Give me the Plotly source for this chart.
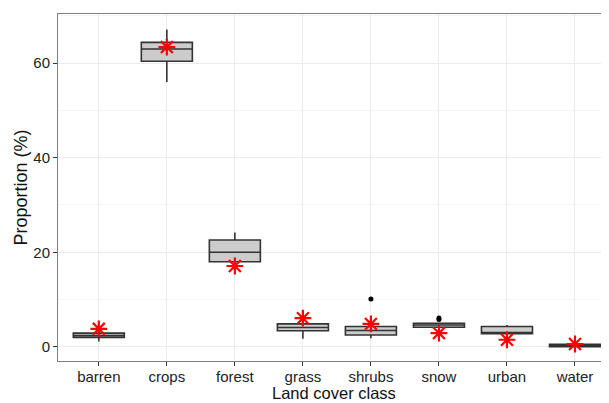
import plotly.graph_objects as go

categories = ["barren", "crops", "forest", "grass", "shrubs", "snow", "urban", "water"]
q1 = [2.0, 60.4, 18.0, 3.4, 2.5, 4.15, 2.75, 0.05]
median = [2.4, 63.0, 20.0, 4.1, 3.45, 4.6, 3.0, 0.3]
q3 = [2.9, 64.4, 22.6, 4.85, 4.3, 5.0, 4.3, 0.55]
lowerfence = [1.1, 56.0, 18.0, 1.7, 1.8, 4.15, 2.75, 0.05]
upperfence = [2.9, 67.1, 24.2, 4.85, 6.5, 5.0, 4.6, 0.55]
observed = [3.8, 63.4, 17.1, 6.05, 4.85, 2.9, 1.5, 0.6]
outlier_cat = ["shrubs", "snow", "snow"]
outlier_val = [10.1, 6.1, 5.8]
y_ticks = [0, 20, 40, 60]

fig = go.Figure()
fig.add_trace(go.Box(
    x=categories, q1=q1, median=median, q3=q3,
    lowerfence=lowerfence, upperfence=upperfence,
    width=0.75, fillcolor="#cccccc",
    line=dict(color="#333333", width=1.6),
    whiskerwidth=0, boxpoints=False, showlegend=False,
))
fig.add_trace(go.Scatter(
    x=outlier_cat, y=outlier_val, mode="markers",
    marker=dict(color="black", size=5), showlegend=False,
))
fig.add_trace(go.Scatter(
    x=categories, y=observed, mode="markers",
    marker=dict(symbol="asterisk-open", size=14,
                line=dict(color="red", width=2.2), color="red"),
    showlegend=False,
))

# page body has an 8px margin; figure is sized/offset to compensate
fig.update_layout(
    width=601, height=395,
    margin=dict(l=50, r=0, t=6, b=42, autoexpand=False),
    plot_bgcolor="white", paper_bgcolor="white",
    font=dict(family="Liberation Sans, Arial, sans-serif", color="#222222"),
    xaxis=dict(
        categoryorder="array", categoryarray=categories,
        range=[-0.6, 7.5], automargin=False,
        showline=True, mirror=True, linecolor="#7f7f7f", linewidth=1,
        showgrid=True, gridcolor="#ebebeb", gridwidth=1,
        ticks="outside", ticklen=4, tickcolor="#333333", tickwidth=1,
        ticklabelstandoff=-2,
        tickfont=dict(size=15, color="#222222"),
        zeroline=False,
    ),
    yaxis=dict(
        range=[-3.0, 70.4], automargin=False,
        tickvals=y_ticks,
        showline=True, linecolor="#7f7f7f", linewidth=1,
        showgrid=True, gridcolor="#ebebeb", gridwidth=1,
        minor=dict(dtick=10, showgrid=True, gridcolor="#f5f5f5", gridwidth=1, tick0=10),
        ticks="outside", ticklen=4, tickcolor="#333333", tickwidth=1,
        tickfont=dict(size=15, color="#222222"),
        zeroline=False,
    ),
    annotations=[
        dict(text="Land cover class", xref="paper", yref="paper", x=0.5, y=0,
             xanchor="center", yanchor="middle", yshift=-32, showarrow=False,
             borderpad=0, font=dict(size=16.5, color="#111111")),
        dict(text="Proportion (%)", xref="paper", yref="paper", x=0, y=0.5,
             xanchor="center", yanchor="middle", xshift=-38, textangle=-90,
             showarrow=False, font=dict(size=18, color="#111111")),
    ],
)

fig.write_html("out.html")
